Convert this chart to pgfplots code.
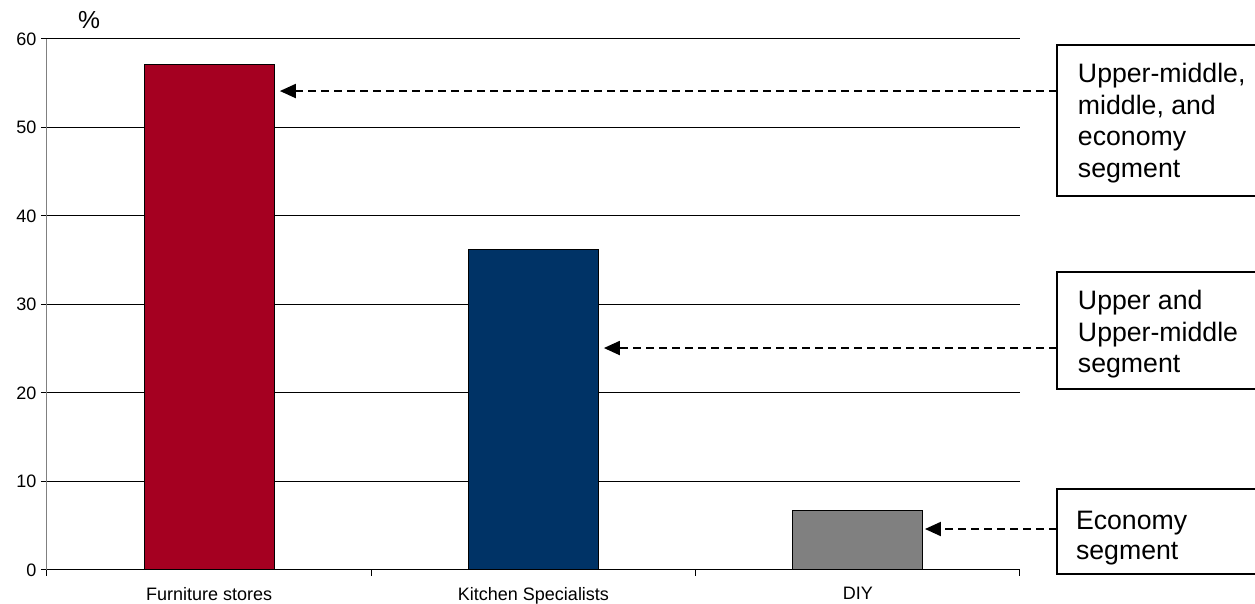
\documentclass[border=0pt]{standalone}
\usepackage{pgfplots}
\pgfplotsset{compat=1.18}
\usepackage{fontspec}
\setmainfont{Liberation Sans}
\usetikzlibrary{arrows.meta}

\definecolor{furnred}{RGB}{165,0,33}
\definecolor{kitchnavy}{RGB}{0,51,102}
\definecolor{diygray}{RGB}{128,128,128}

\begin{document}
\begin{tikzpicture}
\begin{axis}[
  scale only axis,
  width=729.75pt, height=398.25pt,
  xmin=-0.5, xmax=2.5,
  ymin=0, ymax=60,
  axis lines*=left,
  x axis line style={black, line width=0.75pt},
  y axis line style={diygray, line width=0.75pt},
  xtick={0,1,2},
  xticklabels={Furniture stores, Kitchen Specialists, DIY},
  major x tick style={draw=none},
  minor xtick={-0.5,0.5,1.5,2.5},
  minor tick length=4.5pt,
  ytick={0,10,...,60},
  major tick length=4.5pt,
  tick align=outside,
  tick style={black, line width=0.75pt},
  ymajorgrids,
  grid style={black, line width=0.75pt},
  /pgf/number format/assume math mode=true,
  tick label style={font=\fontsize{13.5}{16}\selectfont},
  xticklabel style={yshift=-5pt},
  ybar, bar width=97.5pt, bar shift=0pt,
  clip=false,
]
\addplot[fill=furnred, draw=black, line width=0.75pt] coordinates {(0,57.1)};
\addplot[fill=kitchnavy, draw=black, line width=0.75pt] coordinates {(1,36.2)};
\addplot[fill=diygray, draw=black, line width=0.75pt] coordinates {(2,6.7)};

% unit label above the value axis
\node[font=\fontsize{18.5}{22}\selectfont] at (axis cs:-0.370,62.15) {\%};

% segment boxes (open to the right, running past the page edge)
\draw[line width=1.1pt] (axis cs:3.30,59.32) -- (axis cs:2.614,59.32) -- (axis cs:2.614,42.26) -- (axis cs:3.30,42.26);
\draw[line width=1.1pt] (axis cs:3.30,33.67) -- (axis cs:2.614,33.67) -- (axis cs:2.614,20.45) -- (axis cs:3.30,20.45);
\draw[line width=1.1pt] (axis cs:3.30,9.15) -- (axis cs:2.614,9.15) -- (axis cs:2.614,-0.45) -- (axis cs:3.30,-0.45);

\begin{scope}[every node/.style={anchor=base west, inner sep=0pt, font=\fontsize{20}{24}\selectfont}]
\node at (axis cs:2.678,55.03) {Upper-middle,};
\node at (axis cs:2.678,51.47) {middle, and};
\node at (axis cs:2.678,47.91) {economy};
\node at (axis cs:2.678,44.35) {segment};
\node at (axis cs:2.678,29.38) {Upper and};
\node at (axis cs:2.678,25.82) {Upper-middle};
\node at (axis cs:2.678,22.26) {segment};
\node at (axis cs:2.672,4.52) {Economy};
\node at (axis cs:2.672,1.13) {segment};
\end{scope}

% dashed pointers from each box to its bar
\begin{scope}[line width=1.5pt, dash pattern=on 6pt off 3.75pt,
  -{Triangle[length=12pt,width=10.5pt]}]
\draw (axis cs:2.614,54.12) -- (axis cs:0.218,54.12);
\draw (axis cs:2.614,25.08) -- (axis cs:1.217,25.08);
\draw (axis cs:2.614,4.63) -- (axis cs:2.207,4.63);
\end{scope}

\coordinate (bbsw) at (axis cs:-0.6449,-3.842);
\coordinate (bbne) at (axis cs:3.2246,64.407);
\end{axis}
\pgfresetboundingbox
\useasboundingbox (bbsw) rectangle (bbne);
\end{tikzpicture}
\end{document}
